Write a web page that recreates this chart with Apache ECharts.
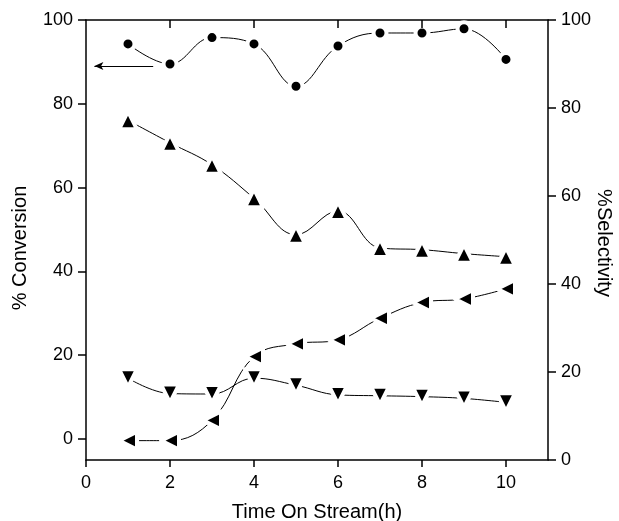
<!DOCTYPE html>
<html>
<head>
<meta charset="utf-8">
<script src="https://cdn.jsdelivr.net/npm/echarts@6/dist/echarts.min.js"></script>
<style>
  html, body { margin: 0; padding: 0; background: #fff; }
  #main { width: 619px; height: 521px; }
</style>
</head>
<body>
<div id="main"></div>
<script>
// time on stream (h)
var hours = [1, 2, 3, 4, 5, 6, 7, 8, 9, 10];
// % conversion (left axis)
var conversion = [94.3, 89.5, 95.8, 94.3, 84.2, 93.8, 96.9, 96.9, 97.9, 90.6];
// % selectivity (right axis)
var selUp = [77.2, 72.1, 67.1, 59.5, 51.2, 56.6, 48.2, 47.8, 46.9, 46.2];
var selDown = [18.6, 15.1, 15.0, 18.6, 17.0, 14.8, 14.6, 14.4, 14.0, 13.1];
var selLeft = [4.4, 4.4, 9.0, 23.5, 26.4, 27.3, 32.2, 35.8, 36.6, 38.9];
// tick values
var xTicks = [0, 2, 4, 6, 8, 10];
var leftTicks = [0, 20, 40, 60, 80, 100];
// arrow pointing to the conversion axis
var arrowFrom = [1.6, 89];
var arrowTo = [0.2, 89];

var FONT = 'Liberation Sans, Arial, sans-serif';

function pairs(ys) {
  return hours.map(function(x, i) { return [x, ys[i]]; });
}

function lineSeries(ys, symbol, rotate, size, yIdx) {
  return {
    type: 'line',
    yAxisIndex: yIdx,
    data: pairs(ys),
    smooth: 0.4,
    symbol: symbol,
    symbolSize: size,
    symbolRotate: rotate,
    showAllSymbol: true,
    lineStyle: { color: '#000', width: 1 },
    itemStyle: { color: '#000', borderColor: '#fff', borderWidth: 4, borderJoin: 'round' },
    emphasis: { disabled: true },
    animation: false
  };
}

var chart = echarts.init(document.getElementById('main'));

var tickStyle = { color: '#000', width: 1.5 };
function axisLine() {
  return { show: true, onZero: false, lineStyle: { color: '#000', width: 1.5 } };
}

var convSeries = lineSeries(conversion, 'circle', 0, 13, 0);
convSeries.markLine = {
  silent: true,
  symbol: ['none', 'arrow'],
  symbolSize: [6, 9],
  label: { show: false },
  lineStyle: { color: '#000', width: 1, type: 'solid' },
  data: [[{ coord: arrowFrom }, { coord: arrowTo }]]
};

var option = {
  backgroundColor: '#fff',
  animation: false,
  grid: { left: 86, right: 71, top: 20, bottom: 61, outerBoundsMode: 'none', containLabel: false },
  xAxis: [{
    type: 'value',
    min: 0, max: 11,
    position: 'bottom',
    name: 'Time On Stream(h)',
    nameLocation: 'middle',
    nameGap: 42,
    nameTextStyle: { fontFamily: FONT, fontSize: 20, color: '#000' },
    axisLine: axisLine(),
    axisTick: { show: true, length: 7, lineStyle: tickStyle, customValues: xTicks },
    splitLine: { show: false },
    axisLabel: { fontFamily: FONT, fontSize: 18, color: '#000', margin: 14, customValues: xTicks }
  }, {
    type: 'value',
    min: 0, max: 11,
    position: 'top',
    axisLine: axisLine(),
    axisTick: { show: false },
    axisLabel: { show: false },
    splitLine: { show: false }
  }],
  yAxis: [{
    type: 'value',
    min: -5, max: 100,
    position: 'left',
    axisLine: axisLine(),
    axisTick: { show: true, length: 8, lineStyle: tickStyle, customValues: leftTicks },
    splitLine: { show: false },
    axisLabel: { fontFamily: FONT, fontSize: 18, color: '#000', margin: 13, customValues: leftTicks }
  }, {
    type: 'value',
    min: 0, max: 100, interval: 20,
    position: 'right',
    axisLine: axisLine(),
    axisTick: { show: true, length: 8, lineStyle: tickStyle },
    splitLine: { show: false },
    axisLabel: { fontFamily: FONT, fontSize: 18, color: '#000', margin: 13 }
  }],
  series: [
    convSeries,
    lineSeries(selUp, 'triangle', 0, 18, 1),
    lineSeries(selDown, 'triangle', 180, 18, 1),
    lineSeries(selLeft, 'triangle', 90, 18, 1)
  ]
};

chart.setOption(option);

// axis titles and the inward ticks of the top frame, placed through the chart's own scales
var graphics = [{
  type: 'text',
  x: 20, y: 248,
  rotation: Math.PI / 2,
  style: { text: '% Conversion', font: '20px ' + FONT, fill: '#000', textAlign: 'center', textVerticalAlign: 'middle' }
}, {
  type: 'text',
  x: 604, y: 243,
  rotation: -Math.PI / 2,
  style: { text: '%Selectivity', font: '20px ' + FONT, fill: '#000', textAlign: 'center', textVerticalAlign: 'middle' }
}];
xTicks.slice(1).forEach(function(t) {
  var p = chart.convertToPixel({ xAxisIndex: 0, yAxisIndex: 0 }, [t, 100]);
  graphics.push({
    type: 'line',
    z: 100,
    shape: { x1: p[0], y1: p[1], x2: p[0], y2: p[1] + 8 },
    style: { stroke: '#000', lineWidth: 1.5 }
  });
});
chart.setOption({ graphic: graphics });
</script>
</body>
</html>
